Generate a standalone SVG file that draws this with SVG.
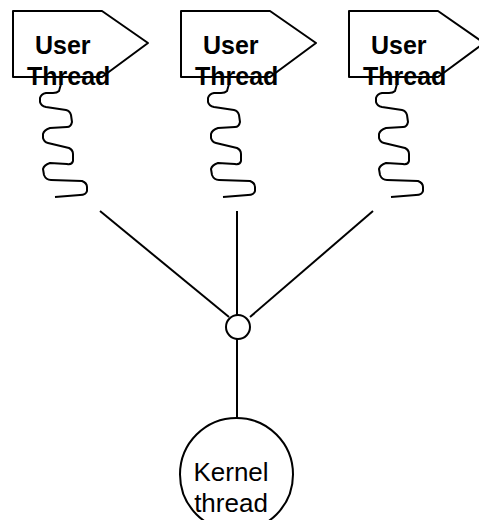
<svg xmlns="http://www.w3.org/2000/svg" width="479" height="520" viewBox="0 0 479 520">
  <style>
    .shape { fill: none; stroke: #000; stroke-width: 2; stroke-linejoin: round; }
    .wire { fill: none; stroke: #000; stroke-width: 2; }
    .ulabel { font-family: "Liberation Sans", Arial, sans-serif; font-weight: bold; font-size: 25px; fill: #000; }
    .klabel { font-family: "Liberation Sans", Arial, sans-serif; font-size: 26px; fill: #000; text-anchor: middle; }
  </style>
  <defs>
    <!-- pentagon flag shape for a user thread -->
    <path id="flag" d="M13,11 L102,11 L148,43 L102,77 L13,77 Z"/>
    <!-- coiled thread line -->
    <path id="coil" d="M61,84 L59,91 Q57,93 53,93 L46,93 Q41,94 40,98 L40,102 Q41,106 46,107 L66,110 Q70,111 71,115 L72,122 Q71,127 67,127 L50,128 Q44,130 43,134 L43,138 Q44,142 48,143 L69,148 Q73,150 73,154 L73,161 Q72,165 67,164 L50,163 Q44,165 43,169 L44,175 Q46,180 51,180 L82,181 Q87,183 87,187 L87,191 Q86,195 80,195 L55,197"/>
  </defs>

  <g id="user-thread-1">
    <use href="#flag" class="shape"/>
    <use href="#coil" class="shape"/>
    <text class="ulabel" x="35" y="54">User</text>
    <text class="ulabel" x="27" y="85">Thread</text>
  </g>

  <g id="user-thread-2" transform="translate(168,0)">
    <use href="#flag" class="shape"/>
    <use href="#coil" class="shape"/>
    <text class="ulabel" x="35" y="54">User</text>
    <text class="ulabel" x="27" y="85">Thread</text>
  </g>

  <g id="user-thread-3" transform="translate(336,0)">
    <use href="#flag" class="shape"/>
    <use href="#coil" class="shape"/>
    <text class="ulabel" x="35" y="54">User</text>
    <text class="ulabel" x="27" y="85">Thread</text>
  </g>

  <g id="connectors">
    <line class="wire" x1="100" y1="211" x2="229" y2="317"/>
    <line class="wire" x1="237" y1="211" x2="237" y2="315"/>
    <line class="wire" x1="373" y1="211" x2="250" y2="317"/>
    <line class="wire" x1="237" y1="339" x2="237" y2="418"/>
  </g>

  <g id="junction">
    <circle class="shape" cx="238" cy="327" r="12"/>
  </g>

  <g id="kernel-thread">
    <circle class="shape" cx="236.5" cy="474.5" r="56.5"/>
    <text class="klabel" x="231" y="481">Kernel</text>
    <text class="klabel" x="231" y="512">thread</text>
  </g>
</svg>
